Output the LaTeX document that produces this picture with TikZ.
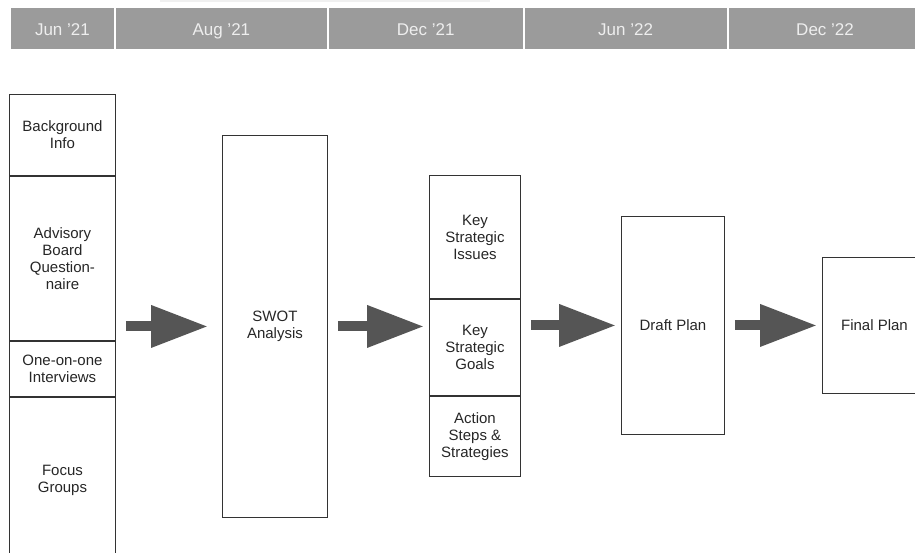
\documentclass[tikz,border=0pt]{standalone}
\usepackage{fontspec}
\setmainfont{Liberation Sans}
\usetikzlibrary{positioning,arrows.meta}
\definecolor{barfill}{HTML}{9B9B9B}
\definecolor{bartext}{HTML}{EEEEEE}
\definecolor{arrowgray}{HTML}{555555}

\begin{document}
\begin{tikzpicture}[
  x=1pt, y=-1pt,
  stage/.style={draw=black!80, line width=0.9pt, align=center, inner sep=2pt,
    anchor=north west, text=black!85, font=\fontsize{15}{17}\selectfont},
  month/.style={draw=white, line width=0.9pt, fill=barfill, text=bartext,
    anchor=north west, minimum height=42pt, inner sep=0pt,
    text height=14.5pt, text depth=0.5pt, font=\fontsize{17}{20}\selectfont},
  flow/.style={line width=10pt, draw=arrowgray, shorten <=10pt, shorten >=5pt,
    -{Triangle[length=57pt,width=40pt]}},
  node distance=0pt
]
\useasboundingbox (0,0) rectangle (915,552);
\clip (0,0) rectangle (915,552);
\fill[black!6] (160,0) rectangle (490,2);

% timeline bar
\node[month, minimum width=104pt] (m1) at (10,7) {Jun '21};
\node[month, minimum width=212pt, right=of m1] (m2) {Aug '21};
\node[month, minimum width=195pt, right=of m2] (m3) {Dec '21};
\node[month, minimum width=203pt, right=of m3] (m4) {Jun '22};
\node[month, minimum width=194pt, right=of m4] (m5) {Dec '22};

% inputs
\node[stage, minimum width=106pt, minimum height=81pt] (bg) at (9,94) {Background\\Info};
\node[stage, minimum width=106pt, minimum height=164pt, below=of bg] (adv) {Advisory\\Board\\Question-\\naire};
\node[stage, minimum width=106pt, minimum height=55pt, below=of adv] (one) {One-on-one\\Interviews};
\node[stage, minimum width=106pt, minimum height=166pt, below=of one] (focus) {Focus\\Groups};

\node[stage, minimum width=105pt, minimum height=382pt] (swot) at (222,135) {SWOT\\Analysis};

% strategy stack
\node[stage, minimum width=91pt, minimum height=123pt] (issues) at (429,175) {Key\\Strategic\\Issues};
\node[stage, minimum width=91pt, minimum height=96pt, below=of issues] (goals) {Key\\Strategic\\Goals};
\node[stage, minimum width=91pt, minimum height=80pt, below=of goals] (steps) {Action\\Steps \&\\Strategies};

\node[stage, minimum width=103pt, minimum height=218pt] (draft) at (621,216) {Draft Plan};
\node[stage, minimum width=104pt, minimum height=136pt] (final) at (822,257) {Final Plan};

\draw[flow, shorten >=14pt] (adv.east |- swot.west) -- (swot.west);
\draw[flow] (swot.east) -- (swot.east -| goals.west);
\draw[flow] (goals.east |- draft.west) -- (draft.west);
\draw[flow] (draft.east) -- (final.west |- draft.east);
\end{tikzpicture}
\end{document}
